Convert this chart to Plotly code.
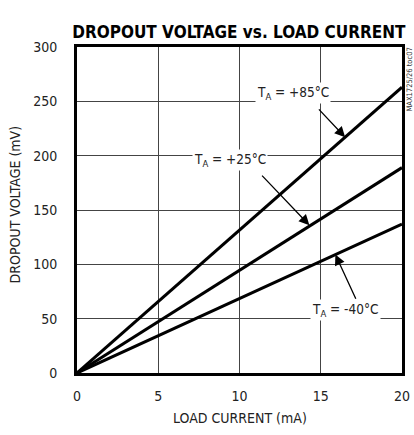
import plotly.graph_objects as go

current = [0, 20]
v_85 = [0, 263]
v_25 = [0, 189]
v_m40 = [0, 137]

x_ticks = [0, 5, 10, 15, 20]
y_ticks = [0, 50, 100, 150, 200, 250, 300]

labels = ["T<sub>A</sub> = +85°C", "T<sub>A</sub> = +25°C", "T<sub>A</sub> = -40°C"]
label_pos = [(13.3, 258), (9.4, 196), (16.55, 58)]
arrow_tail = [(14.8, 244), (11.3, 183), (17.2, 67)]
arrow_head = [(16.5, 217), (14.3, 136), (15.9, 109)]

FONT = "DejaVu Sans Condensed, Liberation Sans Narrow, sans-serif"

fig = go.Figure()
for ys in (v_85, v_25, v_m40):
    fig.add_trace(go.Scatter(x=current, y=ys, mode="lines",
                             line=dict(color="black", width=3), showlegend=False,
                             hoverinfo="skip"))

anns = []
for (lx, ly), t in zip(label_pos, labels):
    anns.append(dict(x=lx, y=ly, xref="x", yref="y", text=t, showarrow=False,
                     bgcolor="white", font=dict(family=FONT, size=13.5, color="#222"),
                     borderpad=1))
for (tx, ty), (hx, hy) in zip(arrow_tail, arrow_head):
    anns.append(dict(x=hx, y=hy, ax=tx, ay=ty, xref="x", yref="y", axref="x", ayref="y",
                     text="", showarrow=True, arrowhead=2, arrowsize=1.6, arrowwidth=1.3,
                     arrowcolor="black", standoff=0, startstandoff=0))
anns.append(dict(x=1.0, y=1.0, xref="paper", yref="paper", xanchor="left", yanchor="top",
                 xshift=1, yshift=0, text="MAX1725/26 toc07", textangle=-90, showarrow=False,
                 font=dict(family=FONT, size=7.5, color="#333"), borderpad=0))
anns.append(dict(x=0, y=0.517, xref="paper", yref="paper", xanchor="center", yanchor="middle",
                 xshift=-62, text="DROPOUT VOLTAGE (mV)", textangle=-90, showarrow=False,
                 font=dict(family=FONT, size=14, color="#222")))
anns.append(dict(x=0.5, y=0, xref="paper", yref="paper", xanchor="center", yanchor="middle",
                 yshift=-45, text="LOAD CURRENT (mA)", showarrow=False,
                 font=dict(family=FONT, size=14, color="#222")))

fig.update_layout(
    width=414, height=435,
    margin=dict(l=77, r=12, t=47, b=62),
    paper_bgcolor="white", plot_bgcolor="white",
    title=dict(text="<b>DROPOUT VOLTAGE vs. LOAD CURRENT</b>", x=0.577, xanchor="center",
               y=0.926, yanchor="middle",
               font=dict(family=FONT, size=17, color="black")),
    font=dict(family=FONT, size=14, color="#222"),
    annotations=anns,
)
fig.update_xaxes(range=[0, 20], tickvals=x_ticks, ticks="", showgrid=True,
                 gridcolor="#444", gridwidth=1, zeroline=False, automargin=False,
                 showline=True, linecolor="black", linewidth=3, mirror=True,
                 ticklabelstandoff=8, tickfont=dict(size=14))
fig.update_yaxes(range=[0, 300], tickvals=y_ticks, ticks="", showgrid=True,
                 gridcolor="#444", gridwidth=1, zeroline=False, automargin=False,
                 showline=True, linecolor="black", linewidth=3, mirror=True,
                 ticklabelstandoff=14, tickfont=dict(size=14))

fig.write_html("out.html", config={"displayModeBar": False},
               post_script="document.body.style.margin='0';document.body.style.overflow='hidden';")
